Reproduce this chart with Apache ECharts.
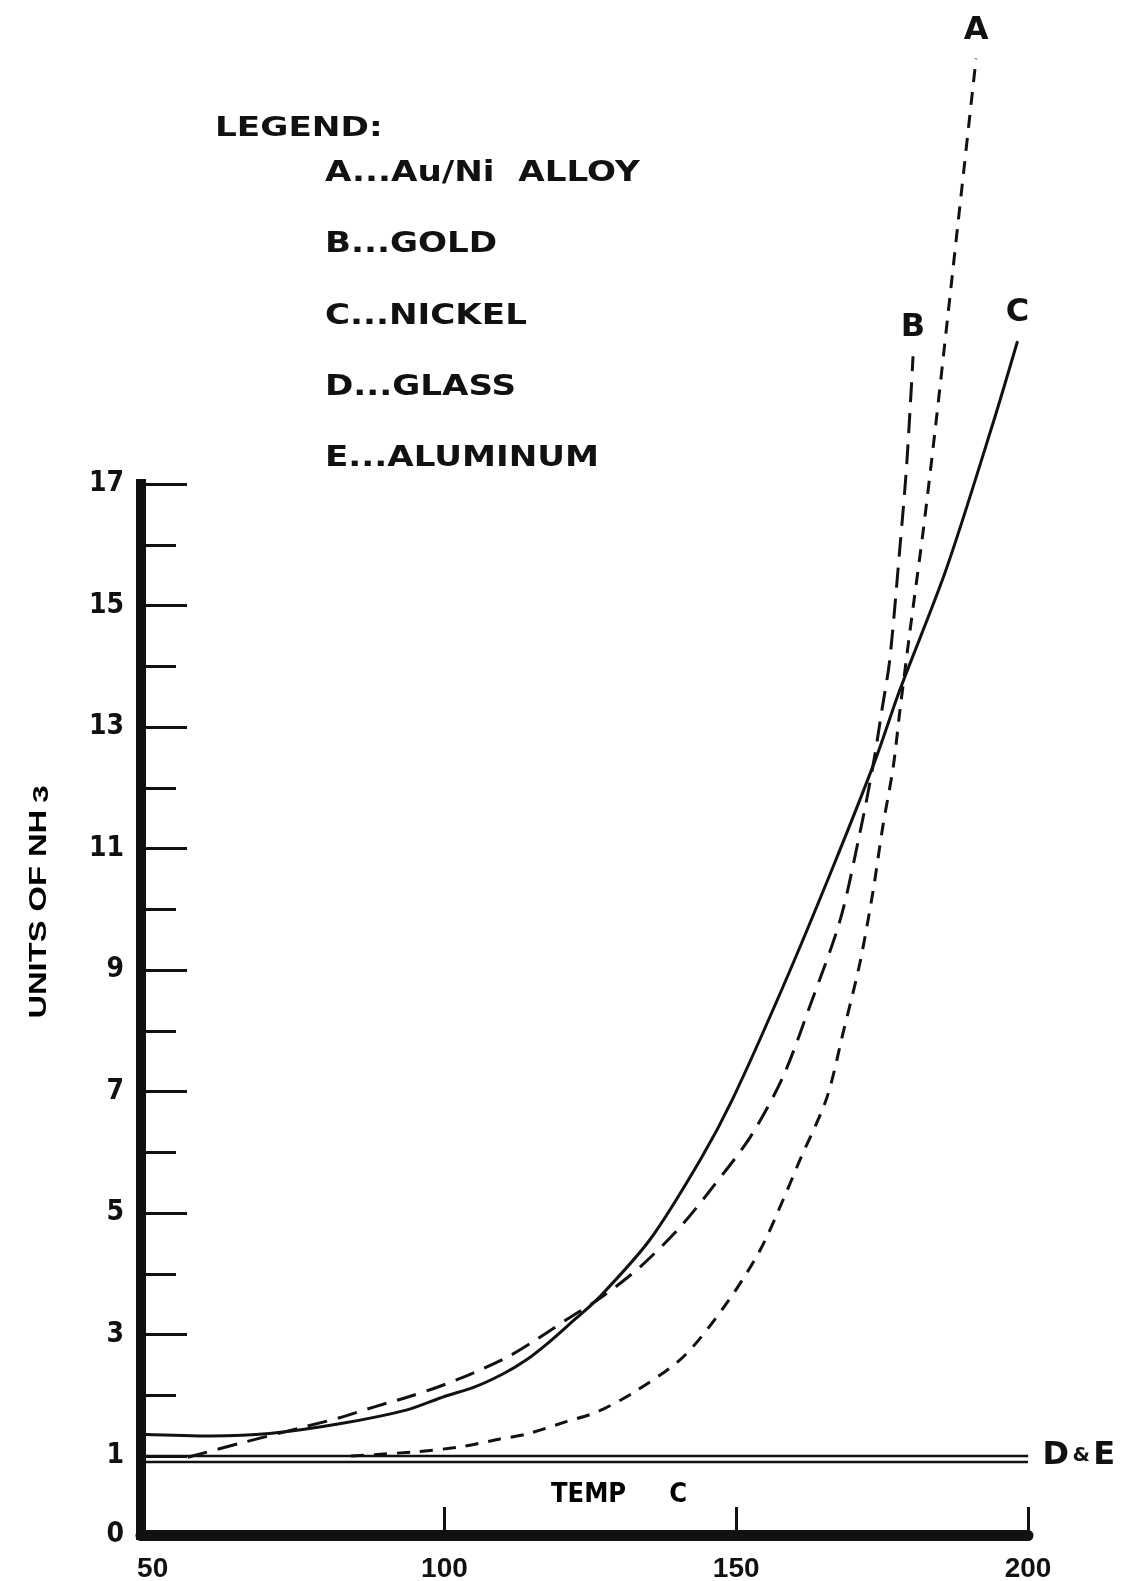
<!DOCTYPE html>
<html>
<head>
<meta charset="utf-8">
<script src="https://cdn.jsdelivr.net/npm/echarts@6/dist/echarts.min.js"></script>
<style>
  html, body { margin: 0; padding: 0; background: #fff; }
  #chart { width: 1139px; height: 1581px; }
</style>
</head>
<body>
<div id="chart"></div>
<script>
// Temperature axis (deg C)
const tempMin = 48;
const tempMax = 200;
const tempTickLabels = [50, 100, 150, 200];
const tempTicks = [100, 150, 200];

// NH3 axis; the baseline below 1 is labelled 0
const nh3Min = -0.3;
const nh3Max = 17;
const nh3MajorTicks = [1, 3, 5, 7, 9, 11, 13, 15, 17];
const nh3MinorTicks = [2, 4, 6, 8, 10, 12, 14, 16];
const nh3TickLabels = [nh3Min, 1, 3, 5, 7, 9, 11, 13, 15, 17];

// Legend entries
const seriesKeys = ['A', 'B', 'C', 'D', 'E'];
const materials = ['Au/Ni  ALLOY', 'GOLD', 'NICKEL', 'GLASS', 'ALUMINUM'];

// Units of NH3 against temperature, [temp, units]
const alloyA = [
  [84, 1.0], [95, 1.07], [102.7, 1.15], [109.5, 1.28], [114, 1.36], [121, 1.57],
  [126, 1.72], [132.3, 2.04], [140.9, 2.63], [148.4, 3.52], [154.1, 4.39],
  [158, 5.21], [160.9, 5.87], [165.5, 6.89], [168.3, 7.96], [171.2, 9.12],
  [173.4, 10.27], [175.1, 11.35], [176.9, 12.34], [178, 13.23], [179.8, 14.6],
  [182, 16.2], [184.1, 17.9], [186.3, 19.8], [188.7, 21.9], [191.1, 24.0]
];
const goldB = [
  [56, 0.98], [65, 1.21], [76, 1.48], [82, 1.63], [88, 1.81], [94, 1.98],
  [99, 2.14], [105, 2.37], [111, 2.64], [115, 2.87], [121, 3.25], [127, 3.62],
  [133.5, 4.11], [140.4, 4.77], [146, 5.43], [152.4, 6.25], [158, 7.24],
  [162.6, 8.4], [167.8, 9.82], [171.2, 11.26], [173.4, 12.34], [175, 13.3],
  [176.3, 14.1], [178, 15.9], [179.2, 17.3], [180.3, 19.1]
];
const nickelC = [
  [48, 1.36], [60, 1.33], [70, 1.37], [82, 1.53], [93.6, 1.76], [100, 1.98],
  [105, 2.13], [110, 2.35], [114, 2.58], [118, 2.88], [122, 3.22], [126.6, 3.62],
  [135.2, 4.56], [143.8, 5.87], [149.4, 6.88], [158, 8.72], [166.6, 10.7],
  [174, 12.5], [178, 13.6], [186, 15.6], [194, 18.0], [198.2, 19.35]
];
const glassD = [[48, 1.0], [200, 1.0]];
const aluminumE = [[48, 0.9], [200, 0.9]];

const INK = '#111';
const narrow = "'Liberation Sans Narrow', 'DejaVu Sans Condensed', sans-serif";
const heavy = "'DejaVu Sans', 'Open Sans', sans-serif";

// attach a letter label to the last point of a curve
function withEndLabel(points, labelOpt) {
  return points.map((p, i) => i === points.length - 1
    ? { value: p, symbol: 'circle', symbolSize: 1, label: Object.assign({ show: true }, labelOpt) }
    : { value: p });
}

function curve(name, points, dash, letter) {
  return {
    name: name,
    type: 'line',
    clip: false,
    symbol: 'none',
    showSymbol: true,
    smooth: 0.3,
    silent: true,
    itemStyle: { color: INK },
    lineStyle: { color: INK, width: 3, type: dash },
    data: withEndLabel(points, {
      formatter: letter, position: 'top', distance: 12,
      fontFamily: heavy, fontWeight: 'bold', fontSize: 32, color: INK
    }),
    z: 3
  };
}

const chart = echarts.init(document.getElementById('chart'), null, { renderer: 'canvas' });

const legendTexts = seriesKeys.map((k, i) => ({
  type: 'text',
  x: 325,
  y: 174 + i * 71.2,
  scaleX: 1.22,
  style: {
    text: k + '...' + materials[i],
    font: "bold 28px 'DejaVu Sans', sans-serif",
    fill: INK,
    textAlign: 'left',
    textVerticalAlign: 'middle'
  }
}));

chart.setOption({
  animation: false,
  backgroundColor: '#fff',
  grid: { left: 141, right: 111, top: 484, bottom: 46, outerBoundsMode: 'none' },
  xAxis: {
    type: 'value',
    min: tempMin,
    max: tempMax,
    axisLine: { onZero: false, lineStyle: { color: INK, width: 11 } },
    axisTick: { show: true, inside: true, length: 28, customValues: tempTicks, lineStyle: { color: INK, width: 3 } },
    axisLabel: {
      customValues: tempTickLabels, margin: 20,
      fontFamily: "'Liberation Sans', sans-serif", fontWeight: 'bold', fontSize: 28, color: INK
    },
    splitLine: { show: false }
  },
  yAxis: [
    {
      type: 'value',
      min: nh3Min,
      max: nh3Max,
      axisLine: { show: true, onZero: false, lineStyle: { color: INK, width: 10, cap: 'square' } },
      axisTick: { show: true, inside: true, length: 46, customValues: nh3MajorTicks, lineStyle: { color: INK, width: 3 } },
      axisLabel: {
        customValues: nh3TickLabels, margin: 17,
        formatter: v => (Math.abs(v - nh3Min) < 1e-9 ? '0' : String(v)),
        fontFamily: narrow, fontWeight: 'bold', fontSize: 28, color: INK
      },
      splitLine: { show: false }
    },
    {
      type: 'value',
      min: nh3Min,
      max: nh3Max,
      position: 'left',
      offset: 0,
      axisLine: { show: false, onZero: false },
      axisTick: { show: true, inside: true, length: 35, customValues: nh3MinorTicks, lineStyle: { color: INK, width: 3 } },
      axisLabel: { show: false },
      splitLine: { show: false }
    }
  ],
  series: [
    curve('Au/Ni ALLOY', alloyA, [13, 10], 'A'),
    curve('GOLD', goldB, [20, 11], 'B'),
    curve('NICKEL', nickelC, 'solid', 'C'),
    {
      name: 'GLASS',
      type: 'line',
      clip: false,
      symbol: 'none',
      silent: true,
      itemStyle: { color: INK },
      lineStyle: { color: INK, width: 2.5 },
      data: withEndLabel(glassD, {
        formatter: '{b|D} {s|&} {b|E}', position: 'right', distance: 14,
        rich: {
          b: { fontFamily: heavy, fontWeight: 'bold', fontSize: 32, color: INK },
          s: { fontFamily: heavy, fontWeight: 'bold', fontSize: 20, color: INK }
        }
      })
    },
    {
      name: 'ALUMINUM',
      type: 'line',
      clip: false,
      symbol: 'none',
      silent: true,
      lineStyle: { color: INK, width: 2.5 },
      data: aluminumE
    }
  ],
  graphic: [
    {
      type: 'text', x: 215, y: 129, scaleX: 1.27,
      style: {
        text: 'LEGEND:', font: "bold 27px 'DejaVu Sans', sans-serif",
        fill: INK, textAlign: 'left', textVerticalAlign: 'middle'
      }
    },
    ...legendTexts,
    {
      type: 'text', x: 40, y: 902, rotation: Math.PI / 2, scaleX: 1.42,
      style: {
        text: '{n|UNITS OF NH}{s|3}',
        rich: {
          n: { fontFamily: "'Liberation Sans', sans-serif", fontWeight: 'bold', fontSize: 23, color: INK },
          s: { fontFamily: "'Liberation Sans', sans-serif", fontWeight: 'bold', fontSize: 22, color: INK, padding: [4, 0, 0, 5] }
        },
        textAlign: 'center', textVerticalAlign: 'middle'
      }
    },
    {
      type: 'text', x: 619, y: 1495,
      style: {
        text: '{t|TEMP}{g|}{t|C}',
        rich: {
          t: { fontFamily: narrow, fontWeight: 'bold', fontSize: 27, color: INK },
          g: { width: 43 }
        },
        textAlign: 'center', textVerticalAlign: 'middle'
      }
    }
  ]
});
</script>
</body>
</html>
